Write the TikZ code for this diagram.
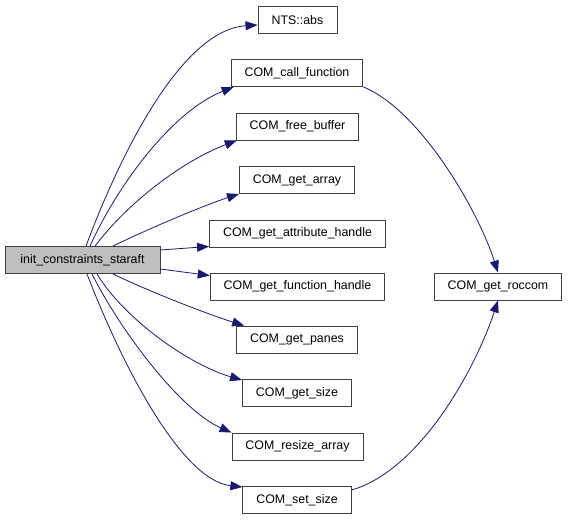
\documentclass[tikz,border=0pt]{standalone}
\usepackage{fontspec}
\setmainfont{Liberation Sans}
\usetikzlibrary{arrows.meta}
\definecolor{edgeCol}{HTML}{191970}
\definecolor{boxEdge}{HTML}{404040}
\definecolor{rootCol}{HTML}{BFBFBF}
\tikzset{
  fn/.style={draw=boxEdge, fill=white, line width=0.9pt, font=\fontsize{12.4}{14}\selectfont,
        inner xsep=13.5pt, inner ysep=0pt, minimum height=27pt},
  call/.style={-{Triangle[length=12pt,width=9pt]}, draw=edgeCol, line width=0.8pt},
}
\begin{document}
\begin{tikzpicture}[x=1pt,y=-1pt]
  \useasboundingbox (0,0) rectangle (568,520);
  % --- caller ---
  \node[fn, fill=rootCol, minimum width=155pt] (root) at (82.5,260) {init\_constraints\_staraft};
  % --- callees ---
  \node[fn, minimum width=79pt] (nts) at (297.5,20) {NTS::abs};
  \node[fn] (callf) at (297,73) {COM\_call\_function};
  \node[fn] (freeb) at (297.5,126.5) {COM\_free\_buffer};
  \node[fn] (geta) at (297,180) {COM\_get\_array};
  \node[fn] (gattr) at (297.5,233.5) {COM\_get\_attribute\_handle};
  \node[fn] (gfunc) at (297.5,286.5) {COM\_get\_function\_handle};
  \node[fn] (gpanes) at (297,339.5) {COM\_get\_panes};
  \node[fn] (gsize) at (297,393) {COM\_get\_size};
  \node[fn] (resize) at (297.5,446.5) {COM\_resize\_array};
  \node[fn] (setsz) at (297,500) {COM\_set\_size};
  \node[fn] (roccom) at (498,286.5) {COM\_get\_roccom};
  % root -> callees
  \draw[call] ([xshift=3.5pt]root.north) .. controls (118,160) and (180,30) .. ([yshift=-5pt]nts.west);
  \draw[call] ([xshift=7.5pt]root.north) .. controls (120,180) and (175,110) .. ([xshift=3pt]callf.south west);
  \draw[call] ([xshift=12.5pt]root.north) .. controls (130,200) and (185,160) .. ([xshift=1pt]freeb.south west);
  \draw[call] ([xshift=30.5pt]root.north) .. controls (150,228) and (205,205) .. (geta.south west);
  \draw[call] ([yshift=10pt]root.east) -- ([yshift=1pt]gattr.south west);
  \draw[call] ([yshift=-9pt]root.east) -- ([yshift=-3pt]gfunc.north west);
  \draw[call] ([xshift=30.5pt]root.south) .. controls (150,292) and (210,315) .. ([xshift=8pt]gpanes.north west);
  \draw[call] ([xshift=14.5pt]root.south) .. controls (125,320) and (190,365) .. ([yshift=-1pt]gsize.north west);
  \draw[call] ([xshift=9.5pt]root.south) .. controls (120,330) and (180,410) .. (resize.north west);
  \draw[call] ([xshift=4.5pt]root.south) .. controls (120,360) and (180,480) .. ([yshift=-1pt]setsz.north west);
  % callees -> roccom
  \draw[call] (callf.south east) .. controls (420,110) and (478,210) .. (roccom.north);
  \draw[call] ([yshift=-4pt]setsz.north east) .. controls (420,470) and (475,370) .. (roccom.south);
\end{tikzpicture}
\end{document}
